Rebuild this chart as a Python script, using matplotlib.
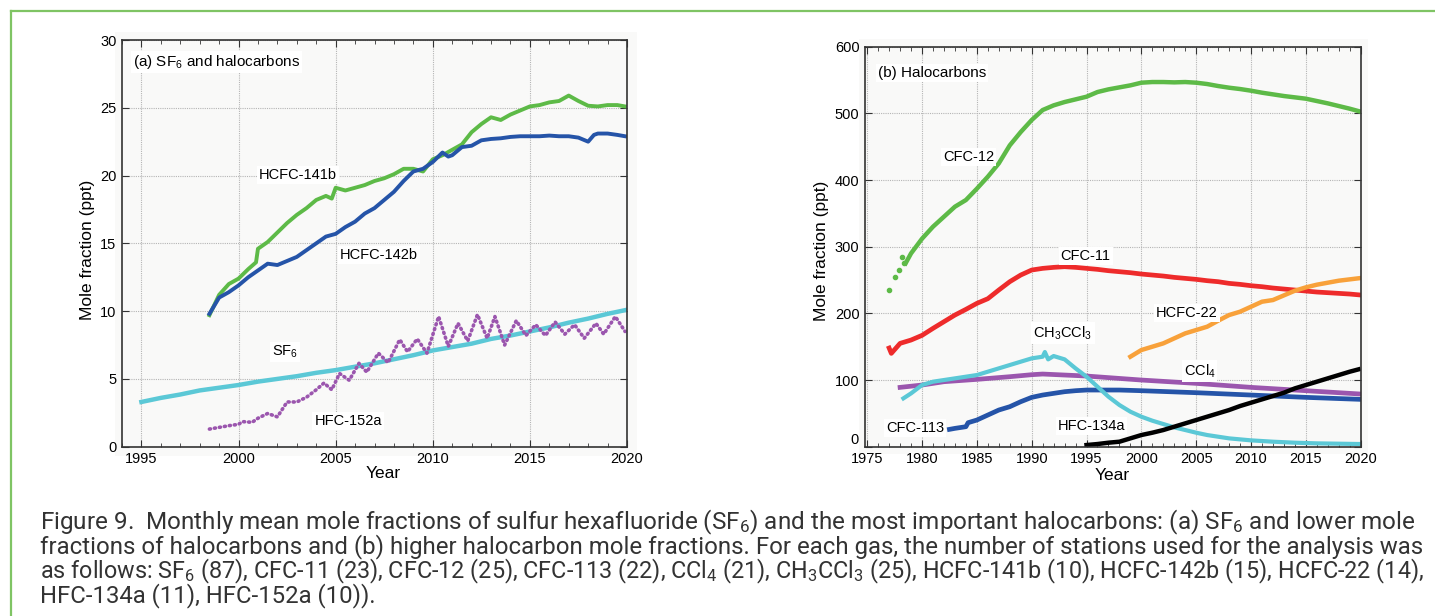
import matplotlib
matplotlib.use('Agg')
import matplotlib.pyplot as plt
from matplotlib.lines import Line2D
from matplotlib.patches import Rectangle
from matplotlib.ticker import MultipleLocator, FuncFormatter
from matplotlib.transforms import blended_transform_factory

plt.rcParams['font.family'] = ['Liberation Sans', 'DejaVu Sans']
plt.rcParams['mathtext.default'] = 'regular'

# ---- panel (a) data ----
hcfc141b_yr = [1998.5, 1999.0, 1999.5, 2000.0, 2000.5, 2000.9, 2001.0, 2001.5, 2002.0, 2002.5,
               2003.0, 2003.5, 2004.0, 2004.5, 2004.8, 2005.0, 2005.5, 2006.0, 2006.5, 2007.0,
               2007.5, 2008.0, 2008.5, 2009.0, 2009.5, 2010.0, 2010.5, 2011.0, 2011.5, 2012.0,
               2012.5, 2013.0, 2013.5, 2014.0, 2014.5, 2015.0, 2015.5, 2016.0, 2016.5, 2017.0,
               2017.5, 2018.0, 2018.5, 2019.0, 2019.5, 2019.9]
hcfc141b = [9.7, 11.2, 12.0, 12.4, 13.1, 13.6, 14.6, 15.1, 15.8, 16.5,
            17.1, 17.6, 18.2, 18.5, 18.3, 19.1, 18.9, 19.1, 19.3, 19.6,
            19.8, 20.1, 20.5, 20.5, 20.3, 21.2, 21.5, 21.9, 22.3, 23.2,
            23.8, 24.3, 24.1, 24.5, 24.8, 25.1, 25.2, 25.4, 25.5, 25.9,
            25.5, 25.15, 25.1, 25.2, 25.2, 25.1]

hcfc142b_yr = [1998.5, 1999.0, 1999.5, 2000.0, 2000.5, 2001.0, 2001.5, 2002.0, 2002.5, 2003.0,
               2003.5, 2004.0, 2004.5, 2005.0, 2005.5, 2006.0, 2006.5, 2007.0, 2007.5, 2008.0,
               2008.5, 2009.0, 2009.5, 2010.0, 2010.5, 2010.8, 2011.0, 2011.5, 2012.0, 2012.5,
               2013.0, 2013.5, 2014.0, 2014.5, 2015.0, 2015.5, 2016.0, 2016.5, 2017.0, 2017.5,
               2018.0, 2018.3, 2018.5, 2019.0, 2019.5, 2019.9]
hcfc142b = [9.8, 11.0, 11.4, 11.9, 12.5, 13.0, 13.5, 13.4, 13.7, 14.0,
            14.5, 15.0, 15.5, 15.7, 16.2, 16.6, 17.2, 17.6, 18.2, 18.8,
            19.6, 20.3, 20.5, 21.0, 21.7, 21.4, 21.5, 22.1, 22.2, 22.6,
            22.7, 22.75, 22.85, 22.9, 22.9, 22.9, 22.95, 22.9, 22.9, 22.8,
            22.5, 23.0, 23.1, 23.1, 23.0, 22.9]

sf6_yr = [1995, 1996, 1997, 1998, 1999, 2000, 2001, 2002, 2003, 2004, 2005, 2006, 2007,
          2008, 2009, 2010, 2011, 2012, 2013, 2014, 2015, 2016, 2017, 2018, 2019, 2020]
sf6 = [3.3, 3.6, 3.85, 4.15, 4.35, 4.55, 4.8, 5.0, 5.2, 5.45, 5.65, 5.9, 6.15,
       6.45, 6.75, 7.1, 7.35, 7.6, 7.95, 8.2, 8.5, 8.8, 9.15, 9.45, 9.8, 10.1]

hfc152a_yr = [1998.5, 1999.5, 2000.0, 2000.2, 2000.7, 2001.0, 2001.5, 2002.0, 2002.5, 2003.0,
              2003.5, 2004.0, 2004.4, 2004.8, 2005.2, 2005.7, 2006.2, 2006.6, 2007.2, 2007.7,
              2008.3, 2008.7, 2009.2, 2009.7, 2010.3, 2010.8, 2011.3, 2011.8, 2012.3, 2012.8,
              2013.2, 2013.7, 2014.3, 2014.8, 2015.3, 2015.8, 2016.3, 2016.8, 2017.3, 2017.8,
              2018.4, 2018.8, 2019.4, 2019.9]
hfc152a = [1.3, 1.55, 1.65, 1.85, 1.8, 2.1, 2.45, 2.2, 3.3, 3.3,
           3.65, 4.2, 4.7, 4.2, 5.4, 4.9, 6.15, 5.5, 6.9, 6.2,
           7.9, 7.0, 7.95, 6.9, 9.6, 7.4, 9.1, 7.8, 9.75, 8.0,
           9.6, 7.5, 9.3, 8.2, 9.0, 8.2, 9.2, 8.3, 9.0, 8.0,
           9.1, 8.3, 9.6, 8.5]

# ---- panel (b) data ----
cfc12_early_yr = [1977.0, 1977.5, 1977.9, 1978.2, 1978.4]
cfc12_early = [235, 255, 265, 285, 275]
cfc12_yr = [1978.5, 1979, 1980, 1981, 1982, 1983, 1984, 1985, 1986, 1987, 1988, 1989, 1990,
            1991, 1992, 1993, 1994, 1995, 1996, 1997, 1998, 1999, 2000, 2001, 2002, 2003,
            2004, 2005, 2006, 2007, 2008, 2009, 2010, 2011, 2012, 2013, 2014, 2015, 2016,
            2017, 2018, 2019, 2020]
cfc12 = [275, 290, 312, 330, 345, 360, 370, 387, 405, 425, 452, 472, 490,
         505, 512, 517, 521, 525, 532, 536, 539, 542, 546, 547, 547, 546.5,
         547, 546, 544, 541, 538.5, 536.5, 534, 531, 528.5, 526, 524, 522, 518.5,
         515, 511, 507, 502.5]

cfc11_yr = [1977.0, 1977.2, 1978, 1979, 1980, 1981, 1982, 1983, 1984, 1985, 1986, 1987, 1988,
            1989, 1990, 1991, 1992, 1993, 1994, 1995, 1996, 1997, 1998, 1999, 2000, 2001,
            2002, 2003, 2004, 2005, 2006, 2007, 2008, 2009, 2010, 2011, 2012, 2013, 2014,
            2015, 2016, 2017, 2018, 2019, 2020]
cfc11 = [148, 140, 155, 160, 167, 177.5, 187.5, 197.5, 206, 215, 222, 235, 247.5,
         257.5, 265, 267.5, 269, 270, 269, 267.5, 266, 264, 262.5, 261, 259, 257.5,
         256, 254, 252.5, 251, 249, 247.5, 245, 243.5, 241.5, 240, 238, 236.5, 235,
         233.5, 232, 231, 230, 229, 227.5]

hcfc22_yr = [1999, 2000, 2001, 2002, 2003, 2004, 2005, 2006, 2007, 2008, 2009, 2010, 2011,
             2012, 2013, 2014, 2015, 2016, 2017, 2018, 2019, 2020]
hcfc22 = [135, 145, 150, 155, 162.5, 170, 175, 180, 189, 197.5, 202.5, 210, 217.5,
          220, 227, 234, 239, 243, 246, 249, 251, 253]

ccl4_yr = [1978, 1980, 1982, 1985, 1988, 1990, 1991, 1993, 1995, 2000, 2005, 2010, 2015, 2020]
ccl4 = [89, 92.5, 97.5, 101, 105, 108, 109, 107.5, 106, 100, 95, 89, 84, 79]

ch3ccl3_yr = [1978.3, 1979, 1980, 1981, 1982, 1983, 1984, 1985, 1986, 1987, 1988, 1989, 1990,
              1991, 1991.2, 1991.5, 1992, 1993, 1994, 1995, 1996, 1997, 1998, 1999, 2000,
              2001, 2002, 2003, 2004, 2005, 2006, 2007, 2008, 2009, 2010, 2012, 2014, 2016,
              2018, 2020]
ch3ccl3 = [72.5, 80, 92.5, 97.5, 100, 102.5, 105, 107.5, 112.5, 117.5, 122.5, 127.5, 132.5,
           135, 142, 131, 136, 131, 117.5, 105, 90, 75, 62.5, 52.5, 45,
           39, 34, 29, 25, 21, 17.5, 15, 12.5, 11, 9.5, 7.5, 6, 5,
           4.5, 4]

cfc113_yr = [1982.5, 1983, 1984, 1984.2, 1985, 1986, 1987, 1988, 1989, 1990, 1991, 1992, 1993,
             1994, 1995, 1996, 1998, 2000, 2005, 2010, 2015, 2020]
cfc113 = [26, 27.5, 30, 36, 40, 47.5, 55, 60, 67.5, 74, 77.5, 80, 82.5,
          84, 85, 85, 85, 84, 81, 77.5, 74, 71]

hfc134a_yr = [1995, 1996, 1997, 1998, 1999, 2000, 2001, 2002, 2003, 2004, 2005, 2006, 2007,
              2008, 2009, 2010, 2011, 2012, 2013, 2014, 2015, 2016, 2017, 2018, 2019, 2019.8]
hfc134a = [2.5, 4, 6, 7.5, 12.5, 17.5, 21, 25, 30, 35, 40, 45, 50,
           55, 61, 66, 71, 76, 81, 87.5, 92.5, 97.5, 102.5, 107.5, 112.5, 116]

caption_lines = [
    'Figure 9.  Monthly mean mole fractions of sulfur hexafluoride (SF$_6$) and the most important halocarbons: (a) SF$_6$ and lower mole',
    'fractions of halocarbons and (b) higher halocarbon mole fractions. For each gas, the number of stations used for the analysis was',
    'as follows: SF$_6$ (87), CFC-11 (23), CFC-12 (25), CFC-113 (22), CCl$_4$ (21), CH$_3$CCl$_3$ (25), HCFC-141b (10), HCFC-142b (15), HCFC-22 (14),',
    'HFC-134a (11), HFC-152a (10)).',
]
caption_sizes = [17.5, 17.3, 16.85, 17.2]

GREEN = '#5dba47'
BLUE = '#2554a8'
CYAN = '#5bc8d6'
PURPLE = '#9b56ae'
RED = '#ee2b2b'
ORANGE = '#f8a13a'

W, H = 1435, 616
fig = plt.figure(figsize=(W / 100, H / 100), dpi=100)


def px_box(x0, y0, x1, y1):
    # pixel box (top-left origin) -> figure fraction rect
    return [x0 / W, 1 - y1 / H, (x1 - x0) / W, (y1 - y0) / H]


# green frame
fig.add_artist(Line2D([11 / W, 1], [1 - 11 / H] * 2, color='#7fc464', lw=1.6, transform=fig.transFigure))
fig.add_artist(Line2D([11 / W] * 2, [0, 1 - 11 / H], color='#7fc464', lw=1.6, transform=fig.transFigure))

# light backdrops behind the plots
for b in [(115, 32, 637, 456), (859, 39, 1368, 454)]:
    r = px_box(*b)
    fig.add_artist(Rectangle((r[0], r[1]), r[2], r[3], transform=fig.transFigure,
                             facecolor='#f9f9f8', edgecolor='none', zorder=-5))

ax1 = fig.add_axes(px_box(122, 40, 627, 446.7))
ax2 = fig.add_axes(px_box(865, 46.7, 1360.7, 446.7))

label_box = dict(facecolor='white', edgecolor='none', pad=1.5)

for ax in (ax1, ax2):
    ax.set_facecolor('#f9f9f8')
    ax.grid(True, which='major', color='#b5b5b5', linestyle=(0, (1, 1)), lw=0.8)
    ax.tick_params(which='both', direction='in', top=True, right=True, labelsize=10.5,
                   color='#333333', pad=4)
    ax.tick_params(which='major', length=5)
    ax.tick_params(which='minor', length=3)
    ax.xaxis.set_major_locator(MultipleLocator(5))
    ax.xaxis.set_minor_locator(MultipleLocator(1))
    for s in ax.spines.values():
        s.set_color('#333333')
        s.set_linewidth(1.2)

# ---- panel (a) ----
ax1.plot(sf6_yr, sf6, color=CYAN, lw=3.2)
ax1.plot(hfc152a_yr, hfc152a, color=PURPLE, lw=2.6, linestyle=(0, (0.3, 1.1)),
         dash_capstyle='round')
ax1.plot(hcfc141b_yr, hcfc141b, color=GREEN, lw=2.8)
ax1.plot(hcfc142b_yr, hcfc142b, color=BLUE, lw=2.8)
ax1.set_xlim(1994, 2020)
ax1.set_ylim(0, 30)
ax1.yaxis.set_major_locator(MultipleLocator(5))
ax1.set_xlabel('Year', fontsize=12.5, va='center')
ax1.set_ylabel('Mole fraction (ppt)', fontsize=12.5, va='center')
ax1.xaxis.set_label_coords(0.517, -0.067)
ax1.yaxis.set_label_coords(-0.069, 0.484)

ax1.text(1994.57, 28.4, '(a) SF$_6$ and halocarbons', fontsize=11, ha='left', va='center', bbox=label_box)
ax1.text(2003.07, 20.04, 'HCFC-141b', fontsize=10.5, ha='center', va='center', bbox=label_box)
ax1.text(2007.24, 14.13, 'HCFC-142b', fontsize=10.5, ha='center', va='center', bbox=label_box)
ax1.text(2002.4, 7.0, 'SF$_6$', fontsize=10.5, ha='center', va='center', bbox=label_box)
ax1.text(2005.64, 1.92, 'HFC-152a', fontsize=10.5, ha='center', va='center', bbox=label_box)

# ---- panel (b) ----
ax2.plot(cfc12_early_yr, cfc12_early, 'o', color=GREEN, ms=3)
ax2.plot(cfc12_yr, cfc12, color=GREEN, lw=3.2)
ax2.plot(cfc11_yr, cfc11, color=RED, lw=3.4)
ax2.plot(hcfc22_yr, hcfc22, color=ORANGE, lw=3.2)
ax2.plot(ccl4_yr, ccl4, color=PURPLE, lw=3.4)
ax2.plot(cfc113_yr, cfc113, color=BLUE, lw=3.4)
ax2.plot(ch3ccl3_yr, ch3ccl3, color=CYAN, lw=3.0)
ax2.plot(hfc134a_yr, hfc134a, color='black', lw=3.2)
ax2.set_xlim(1974.8, 2020)
ax2.set_ylim(0, 600)
ax2.yaxis.set_major_locator(MultipleLocator(100))
# the "0" label is drawn by hand a little above the corner, clear of "1975"
ax2.yaxis.set_major_formatter(FuncFormatter(lambda v, p: '' if v == 0 else '%d' % v))
ax2.text(-0.013, 0, '0', fontsize=10.5, ha='right', va='bottom',
         transform=blended_transform_factory(ax2.transAxes, ax2.transData))
ax2.set_xlabel('Year', fontsize=12.5, va='center')
ax2.set_ylabel('Mole fraction (ppt)', fontsize=12.5, va='center')
ax2.xaxis.set_label_coords(0.498, -0.071)
ax2.yaxis.set_label_coords(-0.087, 0.49)

ax2.text(1975.98, 561, '(b) Halocarbons', fontsize=11, ha='left', va='center', bbox=label_box)
ax2.text(1984.23, 435, 'CFC-12', fontsize=10.5, ha='center', va='center', bbox=label_box)
ax2.text(1994.92, 286, 'CFC-11', fontsize=10.5, ha='center', va='center', bbox=label_box)
ax2.text(2004.16, 201, 'HCFC-22', fontsize=10.5, ha='center', va='center', bbox=label_box)
ax2.text(1992.85, 170.5, 'CH$_3$CCl$_3$', fontsize=10.5, ha='center', va='center', bbox=label_box)
ax2.text(2005.3, 113.5, 'CCl$_4$', fontsize=10.5, ha='center', va='center', bbox=label_box)
ax2.text(1979.35, 28, 'CFC-113', fontsize=10.5, ha='center', va='center', bbox=label_box)
ax2.text(1995.46, 31, 'HFC-134a', fontsize=10.5, ha='center', va='center', bbox=label_box)

# caption
for i, line in enumerate(caption_lines):
    fig.text(40 / W, 1 - (522 + i * 24.6) / H, line, fontsize=caption_sizes[i], color='#333333',
             ha='left', va='center', family=['Roboto', 'DejaVu Sans'])

fig.savefig('out.png', dpi=100)
